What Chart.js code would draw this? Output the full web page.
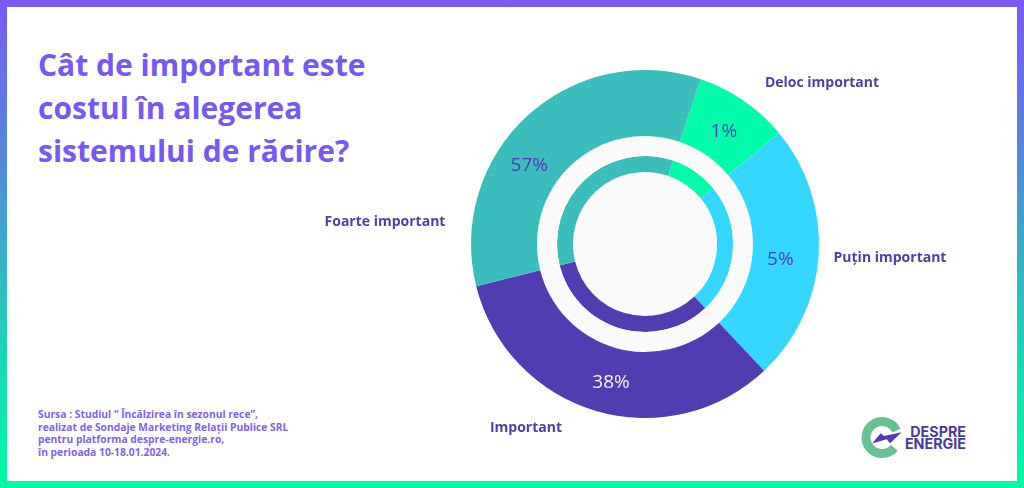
<!DOCTYPE html>
<html lang="ro">
<head>
<meta charset="utf-8">
<title>Costul sistemului de racire</title>
<script src="https://cdn.jsdelivr.net/npm/chart.js@4"></script>
<style>
    html, body { margin: 0; padding: 0; }
    body { width: 1024px; height: 488px; overflow: hidden; position: relative;
           background: linear-gradient(180deg, #7b58f7 0%, #4f8fd8 35%, #1fd0b8 70%, #03f9a6 100%);
           font-family: "Open Sans", sans-serif; }
    #panel { position: absolute; left: 7px; top: 7px; width: 1010px; height: 474px; background: #fff; }
    #grafic { position: absolute; left: 0; top: 0; }
    #titlu { position: absolute; left: 38px; top: 43px; margin: 0; font-size: 30px; line-height: 43px;
             font-weight: 700; color: #7558f5; white-space: nowrap; }
    #sursa { position: absolute; left: 38px; top: 408px; font-size: 10.3px; line-height: 12.6px;
             font-weight: 700; color: #7f62f7; white-space: nowrap; }
    #logo { position: absolute; left: 850px; top: 410px; }
</style>
</head>
<body>
<div id="panel"></div>
<h1 id="titlu">Cât de important este<br>costul în alegerea<br>sistemului de răcire?</h1>
<div id="sursa">Sursa : Studiul “ Încălzirea în sezonul rece”,<br>realizat de Sondaje Marketing Relații Publice SRL<br>pentru platforma despre-energie.ro,<br>în perioada 10-18.01.2024.</div>
<svg id="logo" width="130" height="60" viewBox="850 410 130 60">
    <path d="M896.5 430.7 A16 16 0 1 0 894.3 447.8" fill="none" stroke="#66c194" stroke-width="9"/>
    <polygon points="872,443.5 880.7,433.3 884,436 901.7,432.3 890,443.3 886.7,439.3" fill="#523cb2"/>
    <text x="966" y="437" text-anchor="end" font-family="Inter" font-weight="700" font-size="14.3" fill="#4b3a9c">DESPRE</text>
    <text x="966" y="449" text-anchor="end" font-family="Inter" font-weight="700" font-size="14.3" fill="#4b3a9c">ENERGIE</text>
</svg>
<canvas id="grafic" width="1024" height="488"></canvas>
<script>
// Date
const categorii = ['Deloc important', 'Puţin important', 'Important', 'Foarte important'];
const etichete = ['1%', '5%', '38%', '57%'];
const felii = [8.8, 24, 33.1, 34.1];
const culori = ['#00fbaa', '#33d7ff', '#523cb2', '#3bbdbd'];

// pozitii pentru texte
const pozCategorii = [[822, 83], [890, 258], [526, 428], [385, 222]];
const abatereEticheta = [0, 2, -2.4, -12.5];
const abatereRaza = [-2, -5, 0, 0];
const culoriEticheta = ['#523cb2', '#523cb2', '#f4f2fb', '#523cb2'];

const fundalInterior = '#fafafa';

// Discul din centru si textele
const texte = {
    id: 'texte',
    beforeDatasetsDraw(chart) {
        const arc = chart.getDatasetMeta(2).data[0];
        const ctx = chart.ctx;
        ctx.save();
        ctx.fillStyle = fundalInterior;
        ctx.beginPath();
        ctx.arc(arc.x, arc.y, arc.innerRadius, 0, Math.PI * 2);
        ctx.fill();
        ctx.restore();
    },
    afterDatasetsDraw(chart) {
        const ctx = chart.ctx;
        ctx.save();
        ctx.textAlign = 'center';
        ctx.textBaseline = 'middle';

        chart.getDatasetMeta(0).data.forEach((arc, i) => {
            const unghi = (arc.startAngle + arc.endAngle) / 2 + abatereEticheta[i] * Math.PI / 180;
            const raza = (arc.innerRadius + arc.outerRadius) / 2 + abatereRaza[i];
            ctx.font = '400 19px "Open Sans"';
            ctx.fillStyle = culoriEticheta[i];
            ctx.fillText(etichete[i], arc.x + Math.cos(unghi) * raza, arc.y + Math.sin(unghi) * raza + 2);
        });

        ctx.font = '700 14px "Open Sans"';
        ctx.fillStyle = '#523cb2';
        categorii.forEach((nume, i) => {
            ctx.fillText(nume, pozCategorii[i][0], pozCategorii[i][1]);
        });
        ctx.restore();
    }
};

new Chart(document.getElementById('grafic'), {
    type: 'doughnut',
    data: {
        labels: categorii,
        datasets: [
            { data: felii, backgroundColor: culori, borderWidth: 0, weight: 66 },
            { data: [100], backgroundColor: fundalInterior, borderWidth: 0, weight: 20 },
            { data: felii, backgroundColor: culori, borderWidth: 0, weight: 16 }
        ]
    },
    options: {
        responsive: false,
        animation: false,
        rotation: 18.7,
        cutout: '41.4%',
        layout: { padding: { top: 70, bottom: 70, left: 471, right: 205 } },
        plugins: {
            legend: { display: false },
            tooltip: { enabled: false }
        }
    },
    plugins: [texte]
});
</script>
</body>
</html>
